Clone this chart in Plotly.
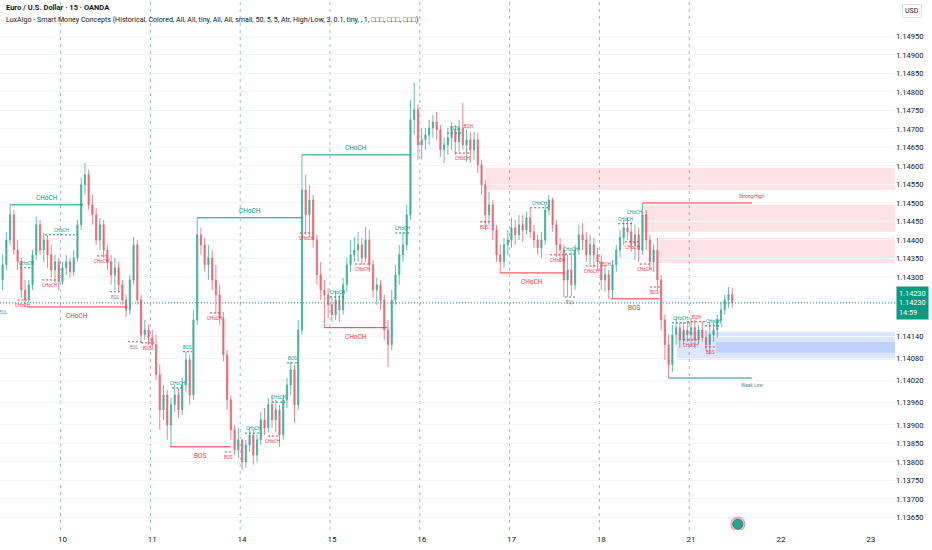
import plotly.graph_objects as go

# ---------------- data (hourly candles, hour 0 = day "10" 00:00) ----------------
first_open = 1.14292
closes = [
    1.14333, 1.14400, 1.14468, 1.14373, 1.14341, 1.14265, 1.14238, 1.14279, 1.14360, 1.14441, 1.14373, 1.14400, 1.14360, 1.14319, 1.14341, 1.14287,
    1.14325, 1.14341, 1.14314, 1.14352, 1.14441, 1.14549, 1.14576, 1.14495, 1.14468, 1.14400, 1.14441, 1.14373, 1.14341, 1.14306, 1.14325, 1.14279, 1.14238, 1.14211, 1.14292, 1.14387, 1.14238, 1.14144, 1.14157, 1.14136,
    1.14117, 1.14036, 1.13941, 1.13981, 1.13900, 1.13955, 1.13981, 1.13941, 1.14008, 1.14076, 1.13981, 1.14184, 1.14414, 1.14387, 1.14333, 1.14352, 1.14292, 1.14252, 1.14189, 1.14090, 1.13968, 1.13887, 1.13833, 1.13860,
    1.13800, 1.13846, 1.13873, 1.13819, 1.13860, 1.13914, 1.13892, 1.13955, 1.13914, 1.13941, 1.13873, 1.13968, 1.14008, 1.14049, 1.13955, 1.14157, 1.14535, 1.14468, 1.14508, 1.14400, 1.14306, 1.14265, 1.14252, 1.14225,
    1.14198, 1.14238, 1.14211, 1.14279, 1.14333, 1.14360, 1.14373, 1.14387, 1.14352, 1.14400, 1.14333, 1.14265, 1.14279, 1.14238, 1.14157, 1.14117, 1.14238, 1.14306, 1.14360, 1.14387, 1.14468, 1.14725, 1.14752, 1.14657,
    1.14671, 1.14684, 1.14703, 1.14719, 1.14698, 1.14644, 1.14657, 1.14676, 1.14698, 1.14665, 1.14703, 1.14657, 1.14671, 1.14644, 1.14671, 1.14603, 1.14549, 1.14468, 1.14495, 1.14427, 1.14360, 1.14341, 1.14387, 1.14400,
    1.14433, 1.14414, 1.14441, 1.14427, 1.14460, 1.14422, 1.14400, 1.14379, 1.14400, 1.14481, 1.14508, 1.14441, 1.14387, 1.14373, 1.14292, 1.14319, 1.14279, 1.14373, 1.14414, 1.14400, 1.14360, 1.14387, 1.14360, 1.14341,
    1.14292, 1.14306, 1.14265, 1.14333, 1.14373, 1.14406, 1.14433, 1.14422, 1.14387, 1.14414, 1.14373, 1.14468, 1.14400, 1.14341, 1.14373, 1.14292, 1.14184, 1.14117, 1.14063, 1.14144, 1.14163, 1.14130, 1.14157, 1.14144,
    1.14163, 1.14130, 1.14157, 1.14136, 1.14117, 1.14144, 1.14157, 1.14184, 1.14211, 1.14238, 1.14252, 1.14230,
]
highs = [
    1.14360, 1.14422, 1.14495, 1.14481, 1.14400, 1.14352, 1.14292, 1.14292, 1.14373, 1.14463, 1.14454, 1.14419, 1.14414, 1.14387, 1.14360, 1.14352,
    1.14341, 1.14360, 1.14352, 1.14373, 1.14454, 1.14568, 1.14608, 1.14590, 1.14522, 1.14487, 1.14460, 1.14454, 1.14387, 1.14360, 1.14352, 1.14341, 1.14292, 1.14252, 1.14306, 1.14408, 1.14400, 1.14252, 1.14184, 1.14171,
    1.14157, 1.14144, 1.14063, 1.14008, 1.13995, 1.13973, 1.14008, 1.14000, 1.14027, 1.14098, 1.14090, 1.14211, 1.14460, 1.14433, 1.14406, 1.14387, 1.14373, 1.14333, 1.14279, 1.14206, 1.14103, 1.13981, 1.13900, 1.13892,
    1.13860, 1.13860, 1.13892, 1.13887, 1.13873, 1.13936, 1.13946, 1.13973, 1.13981, 1.13968, 1.13955, 1.13981, 1.14027, 1.14071, 1.14063, 1.14184, 1.14630, 1.14576, 1.14549, 1.14522, 1.14414, 1.14341, 1.14292, 1.14271,
    1.14244, 1.14260, 1.14252, 1.14298, 1.14352, 1.14400, 1.14408, 1.14422, 1.14406, 1.14435, 1.14427, 1.14346, 1.14298, 1.14292, 1.14252, 1.14184, 1.14265, 1.14333, 1.14387, 1.14422, 1.14495, 1.14779, 1.14825, 1.14765,
    1.14703, 1.14703, 1.14725, 1.14738, 1.14746, 1.14711, 1.14676, 1.14703, 1.14719, 1.14711, 1.14725, 1.14771, 1.14698, 1.14692, 1.14692, 1.14689, 1.14617, 1.14563, 1.14530, 1.14508, 1.14441, 1.14387, 1.14406, 1.14427,
    1.14460, 1.14454, 1.14468, 1.14468, 1.14476, 1.14487, 1.14441, 1.14414, 1.14422, 1.14495, 1.14522, 1.14514, 1.14454, 1.14406, 1.14387, 1.14360, 1.14368, 1.14387, 1.14441, 1.14446, 1.14422, 1.14414, 1.14406, 1.14379,
    1.14360, 1.14333, 1.14319, 1.14346, 1.14387, 1.14427, 1.14454, 1.14460, 1.14449, 1.14441, 1.14433, 1.14500, 1.14481, 1.14414, 1.14387, 1.14406, 1.14306, 1.14198, 1.14144, 1.14171, 1.14189, 1.14179, 1.14179, 1.14179,
    1.14189, 1.14184, 1.14171, 1.14179, 1.14157, 1.14179, 1.14179, 1.14198, 1.14233, 1.14252, 1.14273, 1.14271,
]
lows = [
    1.14265, 1.14319, 1.14387, 1.14360, 1.14319, 1.14244, 1.14219, 1.14230, 1.14265, 1.14346, 1.14360, 1.14341, 1.14325, 1.14298, 1.14284, 1.14265,
    1.14279, 1.14306, 1.14298, 1.14303, 1.14341, 1.14427, 1.14522, 1.14481, 1.14441, 1.14387, 1.14373, 1.14352, 1.14319, 1.14279, 1.14265, 1.14260, 1.14225, 1.14192, 1.14198, 1.14279, 1.14225, 1.14122, 1.14130, 1.14117,
    1.14103, 1.14022, 1.13887, 1.13914, 1.13860, 1.13841, 1.13936, 1.13919, 1.13927, 1.13990, 1.13955, 1.13968, 1.14171, 1.14360, 1.14314, 1.14292, 1.14265, 1.14203, 1.14171, 1.14071, 1.13941, 1.13860, 1.13819, 1.13811,
    1.13779, 1.13784, 1.13827, 1.13792, 1.13800, 1.13846, 1.13873, 1.13881, 1.13892, 1.13881, 1.13841, 1.13860, 1.13946, 1.13981, 1.13906, 1.13941, 1.14144, 1.14414, 1.14406, 1.14379, 1.14279, 1.14238, 1.14163, 1.14189,
    1.14179, 1.14184, 1.14179, 1.14198, 1.14260, 1.14314, 1.14341, 1.14341, 1.14333, 1.14341, 1.14314, 1.14244, 1.14225, 1.14211, 1.14130, 1.14057, 1.14103, 1.14225, 1.14279, 1.14341, 1.14373, 1.14454, 1.14684, 1.14617,
    1.14617, 1.14644, 1.14657, 1.14676, 1.14671, 1.14625, 1.14608, 1.14630, 1.14644, 1.14630, 1.14638, 1.14644, 1.14611, 1.14608, 1.14617, 1.14581, 1.14522, 1.14427, 1.14441, 1.14400, 1.14341, 1.14311, 1.14325, 1.14360,
    1.14379, 1.14387, 1.14400, 1.14395, 1.14414, 1.14406, 1.14379, 1.14360, 1.14352, 1.14387, 1.14468, 1.14422, 1.14354, 1.14341, 1.14246, 1.14246, 1.14249, 1.14265, 1.14360, 1.14373, 1.14341, 1.14333, 1.14325, 1.14319,
    1.14265, 1.14260, 1.14241, 1.14241, 1.14314, 1.14352, 1.14387, 1.14400, 1.14368, 1.14346, 1.14341, 1.14360, 1.14373, 1.14319, 1.14314, 1.14265, 1.14157, 1.14076, 1.14027, 1.14044, 1.14117, 1.14108, 1.14117, 1.14125,
    1.14114, 1.14108, 1.14117, 1.14125, 1.14103, 1.14090, 1.14125, 1.14136, 1.14171, 1.14198, 1.14217, 1.14217,
]
first_hour = -16

day_labels = ["10", "11", "14", "15", "16", "17", "18", "21", "22", "23"]
session_days = 8  # sessions with data (10 .. 21)

price_ticks = [1.14950, 1.14900, 1.14850, 1.14800, 1.14750, 1.14700, 1.14650, 1.14600, 1.14550,
               1.14500, 1.14450, 1.14400, 1.14350, 1.14300, 1.14140, 1.14080, 1.14020, 1.13960,
               1.13900, 1.13850, 1.13800, 1.13750, 1.13700, 1.13650]
last_price = 1.14230
countdown = "14:59"

# major structure (solid)
major_text = ["CHoCH", "CHoCH", "BOS", "CHoCH", "CHoCH", "CHoCH", "CHoCH", "BOS"]
major_side = ["bull", "bear", "bear", "bull", "bull", "bear", "bear", "bear"]
major_level = [1.14495, 1.14219, 1.13841, 1.14460, 1.14630, 1.14163, 1.14311, 1.14241]
major_start = [-14, -9.5, 28.7, 36, 64, 70, 117, 146.5]
major_end = [5.5, 17.3, 45, 64, 93, 86.8, 134, 159.5]

# internal structure (dashed, small labels)
int_text = ["CHoCH", "CHoCH", "CHoCH", "EQL", "CHoCH", "CHoCH", "EQL", "EQL", "BOS",
            "CHoCH", "BOS", "CHoCH", "BOS", "CHoCH", "CHoCH", "CHoCH", "BOS", "CHoCH",
            "CHoCH", "CHoCH", "CHoCH", "BOS", "EQH", "CHoCH", "BOS", "CHoCH", "CHoCH",
            "CHoCH", "EQL", "CHoCH", "EQH", "CHoCH", "CHoCH", "CHoCH", "CHoCH", "BOS",
            "CHoCH", "EQH", "CHoCH", "CHoCH", "BOS"]
int_side = ["bull", "bear", "bear", "eq", "bull", "bear", "eq", "eq", "bear",
            "bull", "bull", "bear", "bear", "bull", "bear", "bull", "bull", "bear",
            "bull", "bear", "bull", "bull", "bear", "bear", "bear", "bull", "bear",
            "bull", "eq", "bear", "bear", "bull", "bull", "bear", "bear", "bear",
            "bull", "bear", "bear", "bull", "bear"]
int_level = [1.14414, 1.14292, 1.14357, 1.14260, 1.14325, 1.14238, 1.14219, 1.14125, 1.14122,
             1.14000, 1.14098, 1.14203, 1.13827, 1.13878, 1.13870, 1.13962, 1.14068, 1.14419,
             1.14246, 1.14335, 1.14419, 1.14689, 1.14706, 1.14635, 1.14449, 1.14487, 1.14360,
             1.14362, 1.14246, 1.14330, 1.14333, 1.14444, 1.14473, 1.14395, 1.14335, 1.14273,
             1.14176, 1.14179, 1.14130, 1.14168, 1.14111]
int_start = [-4.7, -5.5, 9.2, 12.7, -11.4, -12, -15.8, 17.5, 21,
             29.3, 32.2, 39.4, 43.4, 48.8, 54.9, 56, 60, 63.5,
             71.5, 78.2, 88.9, 102.8, 108.6, 104.9, 111.6, 125, 130.3,
             134.3, 134.3, 139.8, 145.5, 148.5, 153, 150.3, 154.3, 157,
             162.9, 166.9, 165.9, 171.7, 171.7]
int_end = [4.1, -1.5, 11.9, 15.4, -8.1, -9.5, -15.8, 21, 24.5,
           32.2, 34.6, 42.1, 45.6, 53.3, 57.6, 59.5, 62.9, 67,
           75.5, 82.2, 92.9, 106.8, 108.6, 108.9, 114.2, 129.8, 134.3,
           137.5, 137.5, 143, 145.5, 152.5, 153, 154.3, 157, 159.7,
           167.7, 172.2, 169.6, 176.3, 174.9]
int_pos = ["above", "below", "below", "below", "above", "below", "below", "below", "below",
           "above", "above", "below", "below", "above", "below", "above", "above", "below",
           "above", "below", "above", "above", "mid", "below", "below", "above", "below",
           "above", "below", "below", "mid", "above", "mid", "below", "below", "below",
           "above", "above", "below", "above", "below"]

# swing points
swing_text = ["Strong High", "Weak Low"]
swing_side = ["bear", "bull"]
swing_level = [1.14500, 1.14027]
swing_start = [155, 162]
swing_end = 184.3

# order blocks
ob_side = ["bear", "bear", "bear", "bull", "bull"]
ob_top = [1.14595, 1.14495, 1.14406, 1.14152, 1.14125]
ob_bottom = [1.14535, 1.14422, 1.14338, 1.14076, 1.14095]
ob_start = [113.2, 155, 159.2, 164.2, 174.6]

header_1 = "Euro / U.S. Dollar · 15 · OANDA"
header_2 = ("LuxAlgo - Smart Money Concepts (Historical, Colored, All, All, tiny, All, All, small, "
            "50, 5, 5, Atr, High/Low, 3, 0.1, tiny, , 1, □□□, □□□, □□□)")

# ---------------- figure ----------------
BULL = "#089981"
BEAR = "#f23645"
EQ = "#787b86"
COL = {"bull": BULL, "bear": BEAR, "eq": EQ}
FONT = "Roboto"

X_MIN, X_MAX = -16.7, 222.5
Y_MIN, Y_MAX = 1.136162, 1.150486

hours = list(range(first_hour, first_hour + len(closes)))
opens = [first_open] + closes[:-1]
highs_c = [max(h, o, c) for h, o, c in zip(highs, opens, closes)]
lows_c = [min(l, o, c) for l, o, c in zip(lows, opens, closes)]

fig = go.Figure()
fig.add_trace(go.Candlestick(
    x=hours, open=opens, high=highs_c, low=lows_c, close=closes,
    increasing=dict(line=dict(color=BULL, width=0.8), fillcolor=BULL),
    decreasing=dict(line=dict(color=BEAR, width=0.8), fillcolor=BEAR),
    whiskerwidth=0, showlegend=False, hoverinfo="skip", opacity=0.78,
))

shapes = []
annos = []

# order blocks
for s, t, b, x0 in zip(ob_side, ob_top, ob_bottom, ob_start):
    fill = "rgba(242,54,69,0.14)" if s == "bear" else "rgba(41,98,255,0.16)"
    shapes.append(dict(type="rect", xref="x", yref="y", x0=x0, x1=X_MAX, y0=b, y1=t,
                       fillcolor=fill, line=dict(width=0), layer="below"))

# session breaks
for d in range(session_days):
    shapes.append(dict(type="line", xref="x", yref="paper", x0=d * 24 - 0.5, x1=d * 24 - 0.5,
                       y0=0, y1=1, line=dict(color="#9bb5e3", width=1, dash="3px,4px"),
                       layer="below"))

# last price line
shapes.append(dict(type="line", xref="paper", yref="y", x0=0, x1=1, y0=last_price, y1=last_price,
                   line=dict(color=BULL, width=1, dash="1px,2px")))

# major structure
for t, s, lv, x0, x1 in zip(major_text, major_side, major_level, major_start, major_end):
    c = COL[s]
    shapes.append(dict(type="line", xref="x", yref="y", x0=x0, x1=x1, y0=lv, y1=lv,
                       line=dict(color=c, width=1)))
    annos.append(dict(x=(x0 + x1) / 2, y=lv, xref="x", yref="y", text=t, showarrow=False,
                      font=dict(family=FONT, size=6.5, color=c),
                      yanchor="bottom" if s == "bull" else "top",
                      yshift=1 if s == "bull" else -3))

# internal structure
for t, s, lv, x0, x1, p in zip(int_text, int_side, int_level, int_start, int_end, int_pos):
    c = COL[s]
    if x1 > x0:
        shapes.append(dict(type="line", xref="x", yref="y", x0=x0, x1=x1, y0=lv, y1=lv,
                           line=dict(color=c, width=1, dash="2px,2px")))
    ya = {"above": "bottom", "below": "top", "mid": "middle"}[p]
    annos.append(dict(x=(x0 + x1) / 2, y=lv, xref="x", yref="y", text=t, showarrow=False,
                      font=dict(family=FONT, size=4.5, color=c), yanchor=ya,
                      yshift={"above": 0, "below": -1, "mid": 0}[p]))

# swing labels
for t, s, lv, x0 in zip(swing_text, swing_side, swing_level, swing_start):
    c = COL[s]
    shapes.append(dict(type="line", xref="x", yref="y", x0=x0, x1=swing_end, y0=lv, y1=lv,
                       line=dict(color=c, width=1)))
    annos.append(dict(x=swing_end, y=lv, xref="x", yref="y", text=t, showarrow=False,
                      font=dict(family=FONT, size=4.8, color=c if s == "bear" else "#4a8f86"),
                      yanchor="bottom" if s == "bear" else "top",
                      yshift=2 if s == "bear" else -3))

# header text
annos.append(dict(x=0, y=1, xref="paper", yref="paper", xanchor="left", yanchor="top",
                  xshift=4, yshift=-1, text="<b>" + header_1 + "</b>", showarrow=False,
                  font=dict(family=FONT, size=7.5, color="#131722")))
annos.append(dict(x=0, y=1, xref="paper", yref="paper", xanchor="left", yanchor="top",
                  xshift=4, yshift=-13, text=header_2, showarrow=False,
                  font=dict(family=FONT, size=7.1, color="#131722")))

# USD box
annos.append(dict(x=1, y=1, xref="paper", yref="paper", xanchor="left", yanchor="top",
                  xshift=7, yshift=-4, text="USD", showarrow=False, borderpad=2,
                  bordercolor="#e0e3eb", borderwidth=1, bgcolor="white",
                  font=dict(family=FONT, size=7, color="#131722")))

# last price badge
annos.append(dict(x=1, y=last_price, xref="paper", yref="y", xanchor="left", yanchor="middle",
                  xshift=1, yshift=0, showarrow=False, align="left",
                  text=f"{last_price:.5f}<br>{last_price:.5f}<br>{countdown}",
                  bgcolor=BULL, borderpad=2,
                  font=dict(family=FONT, size=7.3, color="white")))

# bottom circle icon
circ_h, circ_p = 180.5, 1.13632
shapes.append(dict(type="circle", xref="x", yref="y", xsizemode="pixel", ysizemode="pixel",
                   xanchor=circ_h, yanchor=circ_p, x0=-7, x1=7, y0=-7, y1=7,
                   fillcolor="#f7c5cb", line=dict(color="#f08b97", width=1)))
shapes.append(dict(type="circle", xref="x", yref="y", xsizemode="pixel", ysizemode="pixel",
                   xanchor=circ_h, yanchor=circ_p, x0=-5, x1=5, y0=-5, y1=5,
                   fillcolor="#26a69a", line=dict(color="#1f8a7f", width=1)))

fig.update_layout(
    width=932, height=550,
    margin=dict(l=0, r=37, t=0, b=20),
    paper_bgcolor="white", plot_bgcolor="white",
    shapes=shapes, annotations=annos,
    showlegend=False, boxgap=0.55,
    font=dict(family=FONT, color="#131722"),
    xaxis=dict(range=[X_MIN, X_MAX], rangeslider=dict(visible=False),
               tickvals=[i * 24 for i in range(len(day_labels))], ticktext=day_labels,
               showgrid=False, zeroline=False, showline=False, ticks="",
               ticklabelstandoff=3,
               tickfont=dict(family=FONT, size=8, color="#131722"), fixedrange=True),
    yaxis=dict(range=[Y_MIN, Y_MAX], side="right", tickvals=price_ticks,
               tickformat=".5f", showgrid=True, gridcolor="#f3f4f6", gridwidth=1,
               zeroline=False, showline=False, ticks="",
               tickfont=dict(family=FONT, size=7.6, color="#131722")),
)

fig.write_html("out.html")
